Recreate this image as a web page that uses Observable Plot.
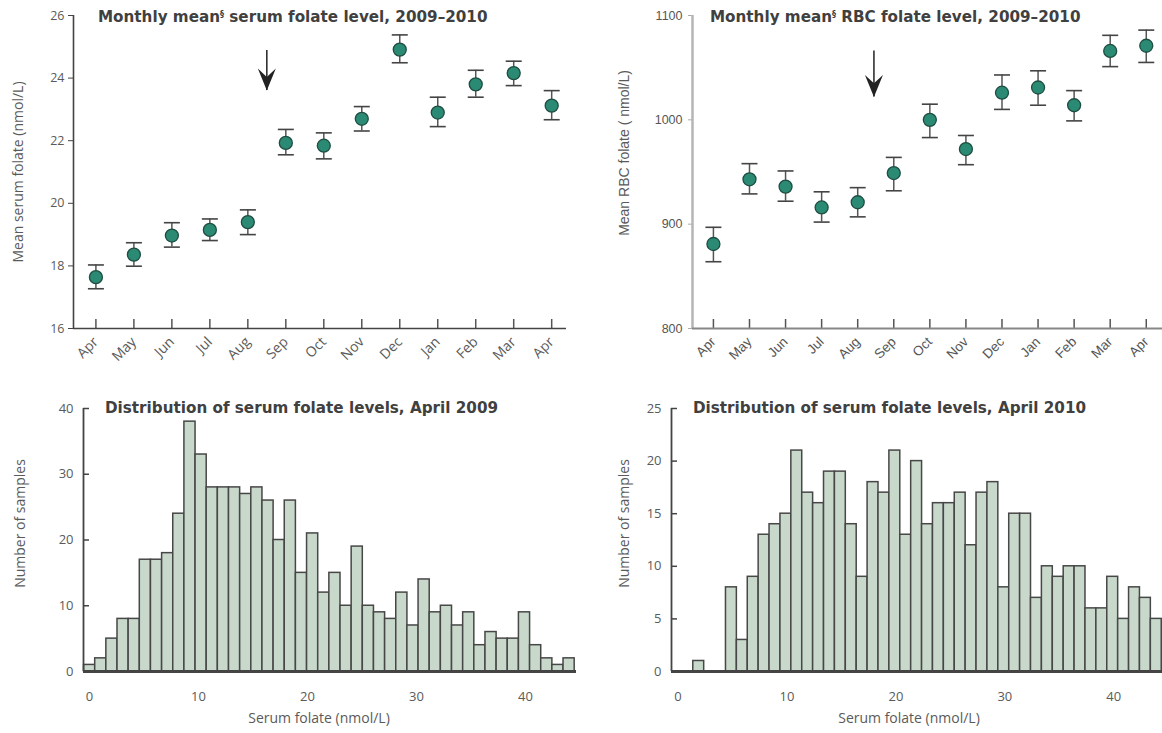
<!DOCTYPE html>
<html><head><meta charset="utf-8">
<script src="https://cdn.jsdelivr.net/npm/d3@7"></script>
<script src="https://cdn.jsdelivr.net/npm/@observablehq/plot@0.6"></script>
<style>
body{margin:0;background:#fff;}
#wrap{position:relative;width:1162px;height:733px;overflow:hidden;}
.panel{position:absolute;}
.title{position:absolute;font-family:"DejaVu Sans",sans-serif;font-weight:700;font-size:15.2px;line-height:16px;color:#404040;white-space:nowrap;}
.title sup{font-size:8px;vertical-align:5px;line-height:0;}
</style></head><body><div id="wrap"></div>
<script>
// ---------- data ----------
const months = ["Apr","May","Jun","Jul","Aug","Sep","Oct","Nov","Dec","Jan","Feb","Mar","Apr"];
const serumMean = [17.64,18.36,18.97,19.15,19.40,21.93,21.84,22.70,24.91,22.90,23.80,24.16,23.12];
const serumLow  = [17.27,17.99,18.60,18.81,19.00,21.55,21.42,22.31,24.49,22.45,23.39,23.76,22.67];
const serumHigh = [18.03,18.74,19.38,19.50,19.79,22.36,22.25,23.09,25.38,23.39,24.25,24.54,23.60];
const rbcMean = [881,943,936,916,921,949,1000,972,1026,1031,1014,1066,1071];
const rbcLow  = [864,929,922,902,907,932,983,957,1010,1014,999,1051,1055];
const rbcHigh = [897,958,951,931,935,964,1015,985,1043,1047,1028,1081,1086];
const hist2009 = [1,2,5,8,8,17,17,18,24,38,33,28,28,28,27,28,26,20,26,15,21,12,15,10,19,10,9,8,12,7,14,9,10,7,9,4,6,5,5,9,4,2,1,2];
const bin2009Start = -0.5, bin2009Width = 1.023;
const hist2010 = [1,0,0,8,3,9,13,14,15,21,17,16,19,19,14,9,18,17,21,13,20,14,16,16,17,12,17,18,8,15,15,7,10,9,10,10,6,6,9,5,8,7,5];
const bin2010Start = 1.4, bin2010Width = 1.0;
const serumTicks = [16,18,20,22,24,26];
const rbcTicks = [800,900,1000,1100];
const hist2009Ticks = [0,10,20,30,40];
const hist2010Ticks = [0,5,10,15,20,25];
const histXTicks = [0,10,20,30,40];
const arrowSerum = [{x: 4.5, y1: 24.88, y2: 23.6}];
const arrowRBC = [{x: 4.45, y1: 1066, y2: 1022}];
const titleTexts = [
  "Monthly mean<sup>§</sup> serum folate level, 2009–2010",
  "Monthly mean<sup>§</sup> RBC folate level, 2009–2010",
  "Distribution of serum folate levels, April 2009",
  "Distribution of serum folate levels, April 2010"
];
const yLabels = ["Mean serum folate (nmol/L)", "Mean RBC folate ( nmol/L)", "Number of samples", "Number of samples"];
const xLabelHist = "Serum folate (nmol/L)";

// ---------- helpers ----------
const monthIdx = months.map((_, i) => i);
const serumRows = monthIdx.map(i => ({i, mean: serumMean[i], lo: serumLow[i], hi: serumHigh[i]}));
const rbcRows = monthIdx.map(i => ({i, mean: rbcMean[i], lo: rbcLow[i], hi: rbcHigh[i]}));
const toBins = (counts, start, w) => counts.map((c, i) => ({x1: start + i * w, x2: start + (i + 1) * w, y: c})).filter(d => d.y > 0);
const cap = {draw(ctx, size){ const r = Math.sqrt(size / Math.PI); ctx.moveTo(-r, 0); ctx.lineTo(r, 0); }};
const stealth = {draw(ctx, size){ const r = Math.sqrt(size / Math.PI); const L = 2.2 * r, W = 0.9 * r;
  ctx.moveTo(0, 0); ctx.lineTo(-W, -L); ctx.lineTo(0, -0.62 * L); ctx.lineTo(W, -L); ctx.closePath(); }};

const wrap = document.getElementById("wrap");
function place(svg, left, top){ const d = document.createElement("div"); d.className = "panel"; d.style.left = left + "px"; d.style.top = top + "px"; d.appendChild(svg); wrap.appendChild(d); }

const teal = "#2b8a73", tealStroke = "#1f4d42";
const labelStyle = {fontSize: 14, fill: "#5a5a5a"};

function yLabel(text, dx, dy, spacing){
  return Plot.text([text], {frameAnchor: "left", textAnchor: "middle", lineAnchor: "middle", rotate: -90, dx, dy, ...labelStyle, letterSpacing: spacing});
}

// ---------- top-left ----------
const tlX = [-0.59, 12.39];
place(Plot.plot({
  width: 580, height: 370, marginLeft: 73, marginRight: 14, marginTop: 15, marginBottom: 42,
  style: {fontFamily: "Open Sans, sans-serif", fontSize: "12.5px", color: "#5a5a5a", background: "transparent", overflow: "visible"},
  x: {type: "linear", domain: tlX},
  y: {domain: [16, 26]},
  marks: [
    Plot.axisY({ticks: serumTicks, tickSize: 5, tickPadding: 4, stroke: "#444", label: null}),
    Plot.axisX({ticks: monthIdx, tickFormat: i => months[i], tickSize: 0, tickRotate: -45, tickPadding: 11, label: null, fontSize: 14}),
    yLabel(yLabels[0], -55, 0, "0.7px"),
    Plot.tickX(monthIdx, {x: d => d, insetTop: 304, stroke: "#555", strokeWidth: 1.5}),
    Plot.ruleX([tlX[0]], {stroke: "#444", strokeWidth: 1.6}),
    Plot.ruleY([16], {stroke: "#444", strokeWidth: 1.6}),
    Plot.ruleX(serumRows, {x: "i", y1: "lo", y2: "hi", stroke: "#555", strokeWidth: 1.5}),
    Plot.dot(serumRows, {x: "i", y: "lo", symbol: cap, r: 8, fill: "none", stroke: "#444", strokeWidth: 1.6}),
    Plot.dot(serumRows, {x: "i", y: "hi", symbol: cap, r: 8, fill: "none", stroke: "#444", strokeWidth: 1.6}),
    Plot.dot(serumRows, {x: "i", y: "mean", r: 6.5, fill: teal, stroke: tealStroke, strokeWidth: 1.3}),
    Plot.ruleX(arrowSerum, {x: "x", y1: "y1", y2: "y2", stroke: "#222", strokeWidth: 1.5}),
    Plot.dot(arrowSerum, {x: "x", y: "y2", symbol: stealth, r: 10, fill: "#222", stroke: "none"})
  ]
}), 0, 0);

// ---------- top-right ----------
const trX = [-0.58, 12.45];
place(Plot.plot({
  width: 582, height: 370, marginLeft: 112, marginRight: 0, marginTop: 15, marginBottom: 42,
  style: {fontFamily: "Liberation Sans, Arial, sans-serif", fontSize: "12.5px", color: "#555", background: "transparent", overflow: "visible"},
  x: {type: "linear", domain: trX},
  y: {domain: [800, 1100]},
  marks: [
    Plot.axisY({ticks: rbcTicks, tickFormat: d => String(d), tickSize: 4, tickPadding: 6, stroke: "#aaa", label: null}),
    Plot.axisX({ticks: monthIdx, tickFormat: i => months[i], tickSize: 0, tickRotate: -45, tickPadding: 11, label: null, fontSize: 13.5}),
    yLabel(yLabels[1], -68, -19, "0.9px"),
    Plot.tickX(monthIdx, {x: d => d, insetTop: 304, stroke: "#555", strokeWidth: 1.5}),
    Plot.ruleX([trX[0]], {stroke: "#b5b5b5", strokeWidth: 2.5}),
    Plot.ruleY([800], {stroke: "#888", strokeWidth: 2}),
    Plot.ruleX(rbcRows, {x: "i", y1: "lo", y2: "hi", stroke: "#555", strokeWidth: 1.5}),
    Plot.dot(rbcRows, {x: "i", y: "lo", symbol: cap, r: 8, fill: "none", stroke: "#444", strokeWidth: 1.6}),
    Plot.dot(rbcRows, {x: "i", y: "hi", symbol: cap, r: 8, fill: "none", stroke: "#444", strokeWidth: 1.6}),
    Plot.dot(rbcRows, {x: "i", y: "mean", r: 6.5, fill: teal, stroke: tealStroke, strokeWidth: 1.3}),
    Plot.ruleX(arrowRBC, {x: "x", y1: "y1", y2: "y2", stroke: "#222", strokeWidth: 1.5}),
    Plot.dot(arrowRBC, {x: "x", y: "y2", symbol: stealth, r: 10, fill: "#222", stroke: "none"})
  ]
}), 580, 0);

// ---------- histograms ----------
function hist(counts, start, w, yTicks, yMax, xDomain, W, mL, mR, label, yLabDx, xLabDx){
  const frameW = W - mL - mR;
  return Plot.plot({
    width: W, height: 363, marginLeft: mL, marginRight: mR, marginTop: 38, marginBottom: 62,
    style: {fontFamily: "Open Sans, sans-serif", fontSize: "13px", color: "#5a5a5a", background: "transparent", overflow: "visible"},
    x: {type: "linear", domain: xDomain},
    y: {domain: [0, yMax]},
    marks: [
      Plot.tickY(yTicks, {y: d => d, insetRight: frameW - 6, stroke: "#444", strokeWidth: 1.5}),
      Plot.rectY(toBins(counts, start, w), {x1: "x1", x2: "x2", y: "y", fill: "#c8d8cb", stroke: "#474747", strokeWidth: 1.5}),
      Plot.axisY({ticks: yTicks, tickSize: 0, tickPadding: 10, label: null}),
      Plot.axisX({ticks: histXTicks, tickSize: 0, tickPadding: 20, label: null}),
      yLabel(label, yLabDx, -16.5, "0.6px"),
      Plot.text([xLabelHist], {frameAnchor: "bottom", textAnchor: "middle", lineAnchor: "middle", dx: xLabDx, dy: 47, ...labelStyle, letterSpacing: "0.8px"}),
      Plot.ruleX([xDomain[0]], {stroke: "#444", strokeWidth: 1.8}),
      Plot.ruleY([0], {stroke: "#444", strokeWidth: 3})
    ]
  });
}
place(hist(hist2009, bin2009Start, bin2009Width, hist2009Ticks, 40, [-0.55, 44.68], 580, 83, 4, yLabels[2], -63, -11), 0, 370);
place(hist(hist2010, bin2010Start, bin2010Width, hist2010Ticks, 25, [-0.6, 44.47], 582, 91, 0, yLabels[3], -47, -8), 580, 370);

// ---------- titles ----------
const titleLayout = [
  {left: 98, top: 9},
  {left: 710, top: 9},
  {left: 105, top: 400},
  {left: 693, top: 400}
];
titleTexts.forEach((html, k) => {
  const L = titleLayout[k];
  const d = document.createElement("div"); d.className = "title";
  d.style.left = L.left + "px"; d.style.top = L.top + "px";
  d.innerHTML = html; wrap.appendChild(d);
});
</script></body></html>
